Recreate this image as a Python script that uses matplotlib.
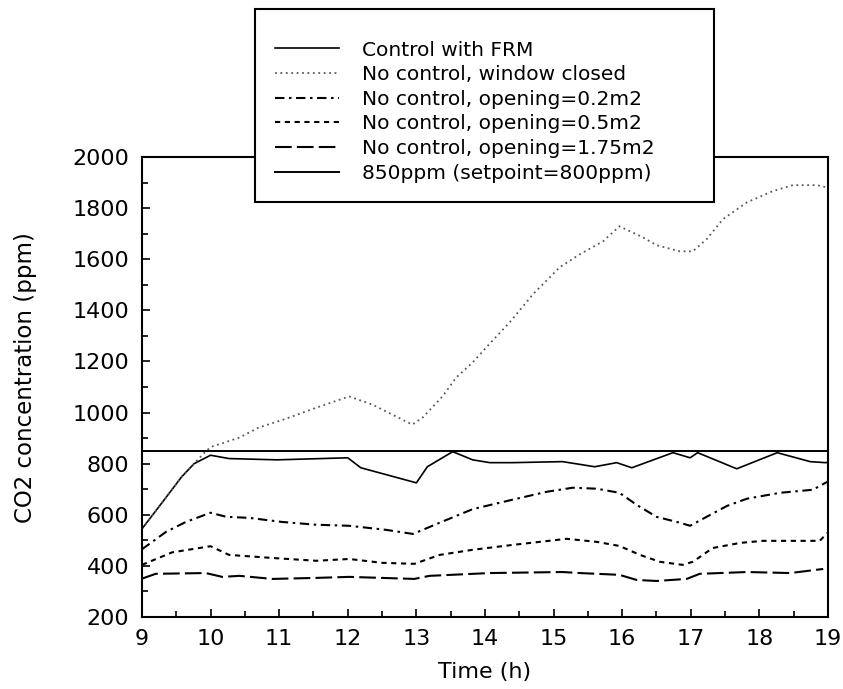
import numpy as np
import matplotlib
matplotlib.use("Agg")
import matplotlib.pyplot as plt
from matplotlib.patches import Rectangle
from matplotlib.ticker import MultipleLocator

## Datos: concentracion de CO2 (ppm) contra la hora del dia
ctrl_t = [9.0, 9.3, 9.58, 9.76, 10.0, 10.27, 10.97, 12.0, 12.19, 13.0, 13.16, 13.53,
          13.82, 14.07, 14.4, 15.13, 15.6, 15.92, 16.14, 16.74, 16.99, 17.1, 17.67,
          18.26, 18.74, 18.96, 19.0]
ctrl_v = [545, 650, 749, 800, 833, 820, 815, 823, 784, 725, 788, 847,
          815, 804, 804, 808, 788, 804, 784, 843, 823, 843, 780,
          843, 808, 804, 805]

closed_t = [9.0, 9.3, 9.58, 9.76, 9.9, 10.0, 10.42, 10.7, 11.1, 11.54, 12.02, 12.36,
            12.94, 13.09, 13.38, 13.58, 13.82, 14.07, 14.36, 14.7, 15.09, 15.38,
            15.72, 15.96, 16.3, 16.5, 16.84, 17.03, 17.23, 17.47, 17.82, 18.2,
            18.49, 18.84, 19.0]
closed_v = [545, 650, 749, 800, 840, 865, 902, 941, 976, 1019, 1063, 1031,
            953, 980, 1063, 1137, 1196, 1270, 1353, 1463, 1569, 1619,
            1670, 1729, 1686, 1655, 1631, 1631, 1678, 1757, 1823, 1867,
            1890, 1890, 1880]

op02_t = [9.0, 9.35, 9.64, 10.0, 10.23, 10.56, 11.04, 11.54, 12.02, 12.56, 12.95,
          13.34, 13.82, 14.4, 14.9, 15.28, 15.63, 15.96, 16.21, 16.5, 16.84, 16.99,
          17.23, 17.53, 17.82, 18.3, 18.78, 18.99]
op02_v = [465, 533, 572, 608, 592, 588, 572, 561, 557, 541, 525,
          569, 622, 659, 690, 706, 702, 686, 639, 592, 569, 557,
          592, 635, 663, 686, 698, 729]

op05_t = [9.0, 9.44, 10.0, 10.27, 10.9, 11.54, 12.02, 12.5, 12.97, 13.34, 13.82,
          14.4, 15.19, 15.63, 15.96, 16.26, 16.55, 16.88, 17.03, 17.32, 17.72,
          18.05, 18.88, 18.99]
op05_v = [404, 453, 477, 443, 431, 420, 427, 412, 408, 443, 463,
          482, 506, 494, 478, 443, 416, 404, 416, 470, 490,
          498, 498, 529]

op175_t = [9.0, 9.2, 9.93, 10.17, 10.42, 10.9, 11.54, 12.02, 12.97, 13.19, 14.07,
           15.13, 15.38, 15.96, 16.21, 16.5, 16.94, 17.13, 17.82, 18.45, 18.93]
op175_v = [350, 369, 372, 357, 361, 349, 353, 357, 349, 361, 372,
           376, 372, 365, 345, 341, 349, 369, 376, 372, 388]

setpoint = 850

etiquetas = ["Control with FRM",
             "No control, window closed",
             "No control, opening=0.2m2",
             "No control, opening=0.5m2",
             "No control, opening=1.75m2",
             "850ppm (setpoint=800ppm)"]

## Grafica
fig = plt.figure(figsize=(8.43, 6.89), dpi=100)
ax = fig.add_axes([0.1684, 0.1045, 0.8138, 0.6676])

l1, = ax.plot(ctrl_t, ctrl_v, color="black", lw=1.2, ls="-")
l2, = ax.plot(closed_t, closed_v, color="0.35", lw=1.3, ls=(0, (1, 2.0)))
l3, = ax.plot(op02_t, op02_v, color="black", lw=1.5, ls=(0, (4.5, 2.2, 1.2, 2.2)))
l4, = ax.plot(op05_t, op05_v, color="black", lw=1.5, ls=(0, (2.5, 2.2)))
l5, = ax.plot(op175_t, op175_v, color="black", lw=1.5, ls=(0, (8, 2.5)))
l6 = ax.axhline(setpoint, color="black", lw=1.4, ls="-")

ax.set_xlim(9, 19)
ax.set_ylim(200, 2000)
ax.xaxis.set_major_locator(MultipleLocator(1))
ax.xaxis.set_minor_locator(MultipleLocator(0.5))
ax.yaxis.set_major_locator(MultipleLocator(200))
ax.yaxis.set_minor_locator(MultipleLocator(100))
ax.tick_params(which="both", direction="in", top=False, right=False,
               labelsize=16, pad=9, width=1.2)
ax.tick_params(which="major", length=6)
ax.tick_params(which="minor", length=4)
for s in ax.spines.values():
    s.set_linewidth(1.5)

ax.set_xlabel("Time (h)", fontsize=16)
ax.set_ylabel("CO2 concentration (ppm)", fontsize=16.5)
ax.xaxis.set_label_coords(0.5, -0.098)
ax.yaxis.set_label_coords(-0.153, 0.52)

# recuadro de la leyenda, tapa el borde superior de los ejes
caja = Rectangle((0.3025, 0.7068), 0.5445, 0.2801, transform=fig.transFigure,
                 facecolor="white", edgecolor="black", lw=1.5, zorder=5)
fig.patches.append(caja)

leg = fig.legend([l1, l2, l3, l4, l5, l6], etiquetas, loc="upper left",
                 bbox_to_anchor=(275 / 843, 1 - 40.5 / 689), frameon=False,
                 fontsize=14.5, handlelength=3.2, handletextpad=1.1,
                 labelspacing=0.28, borderpad=0, borderaxespad=0)
leg.set_zorder(10)

fig.savefig("out.png", dpi=100)
